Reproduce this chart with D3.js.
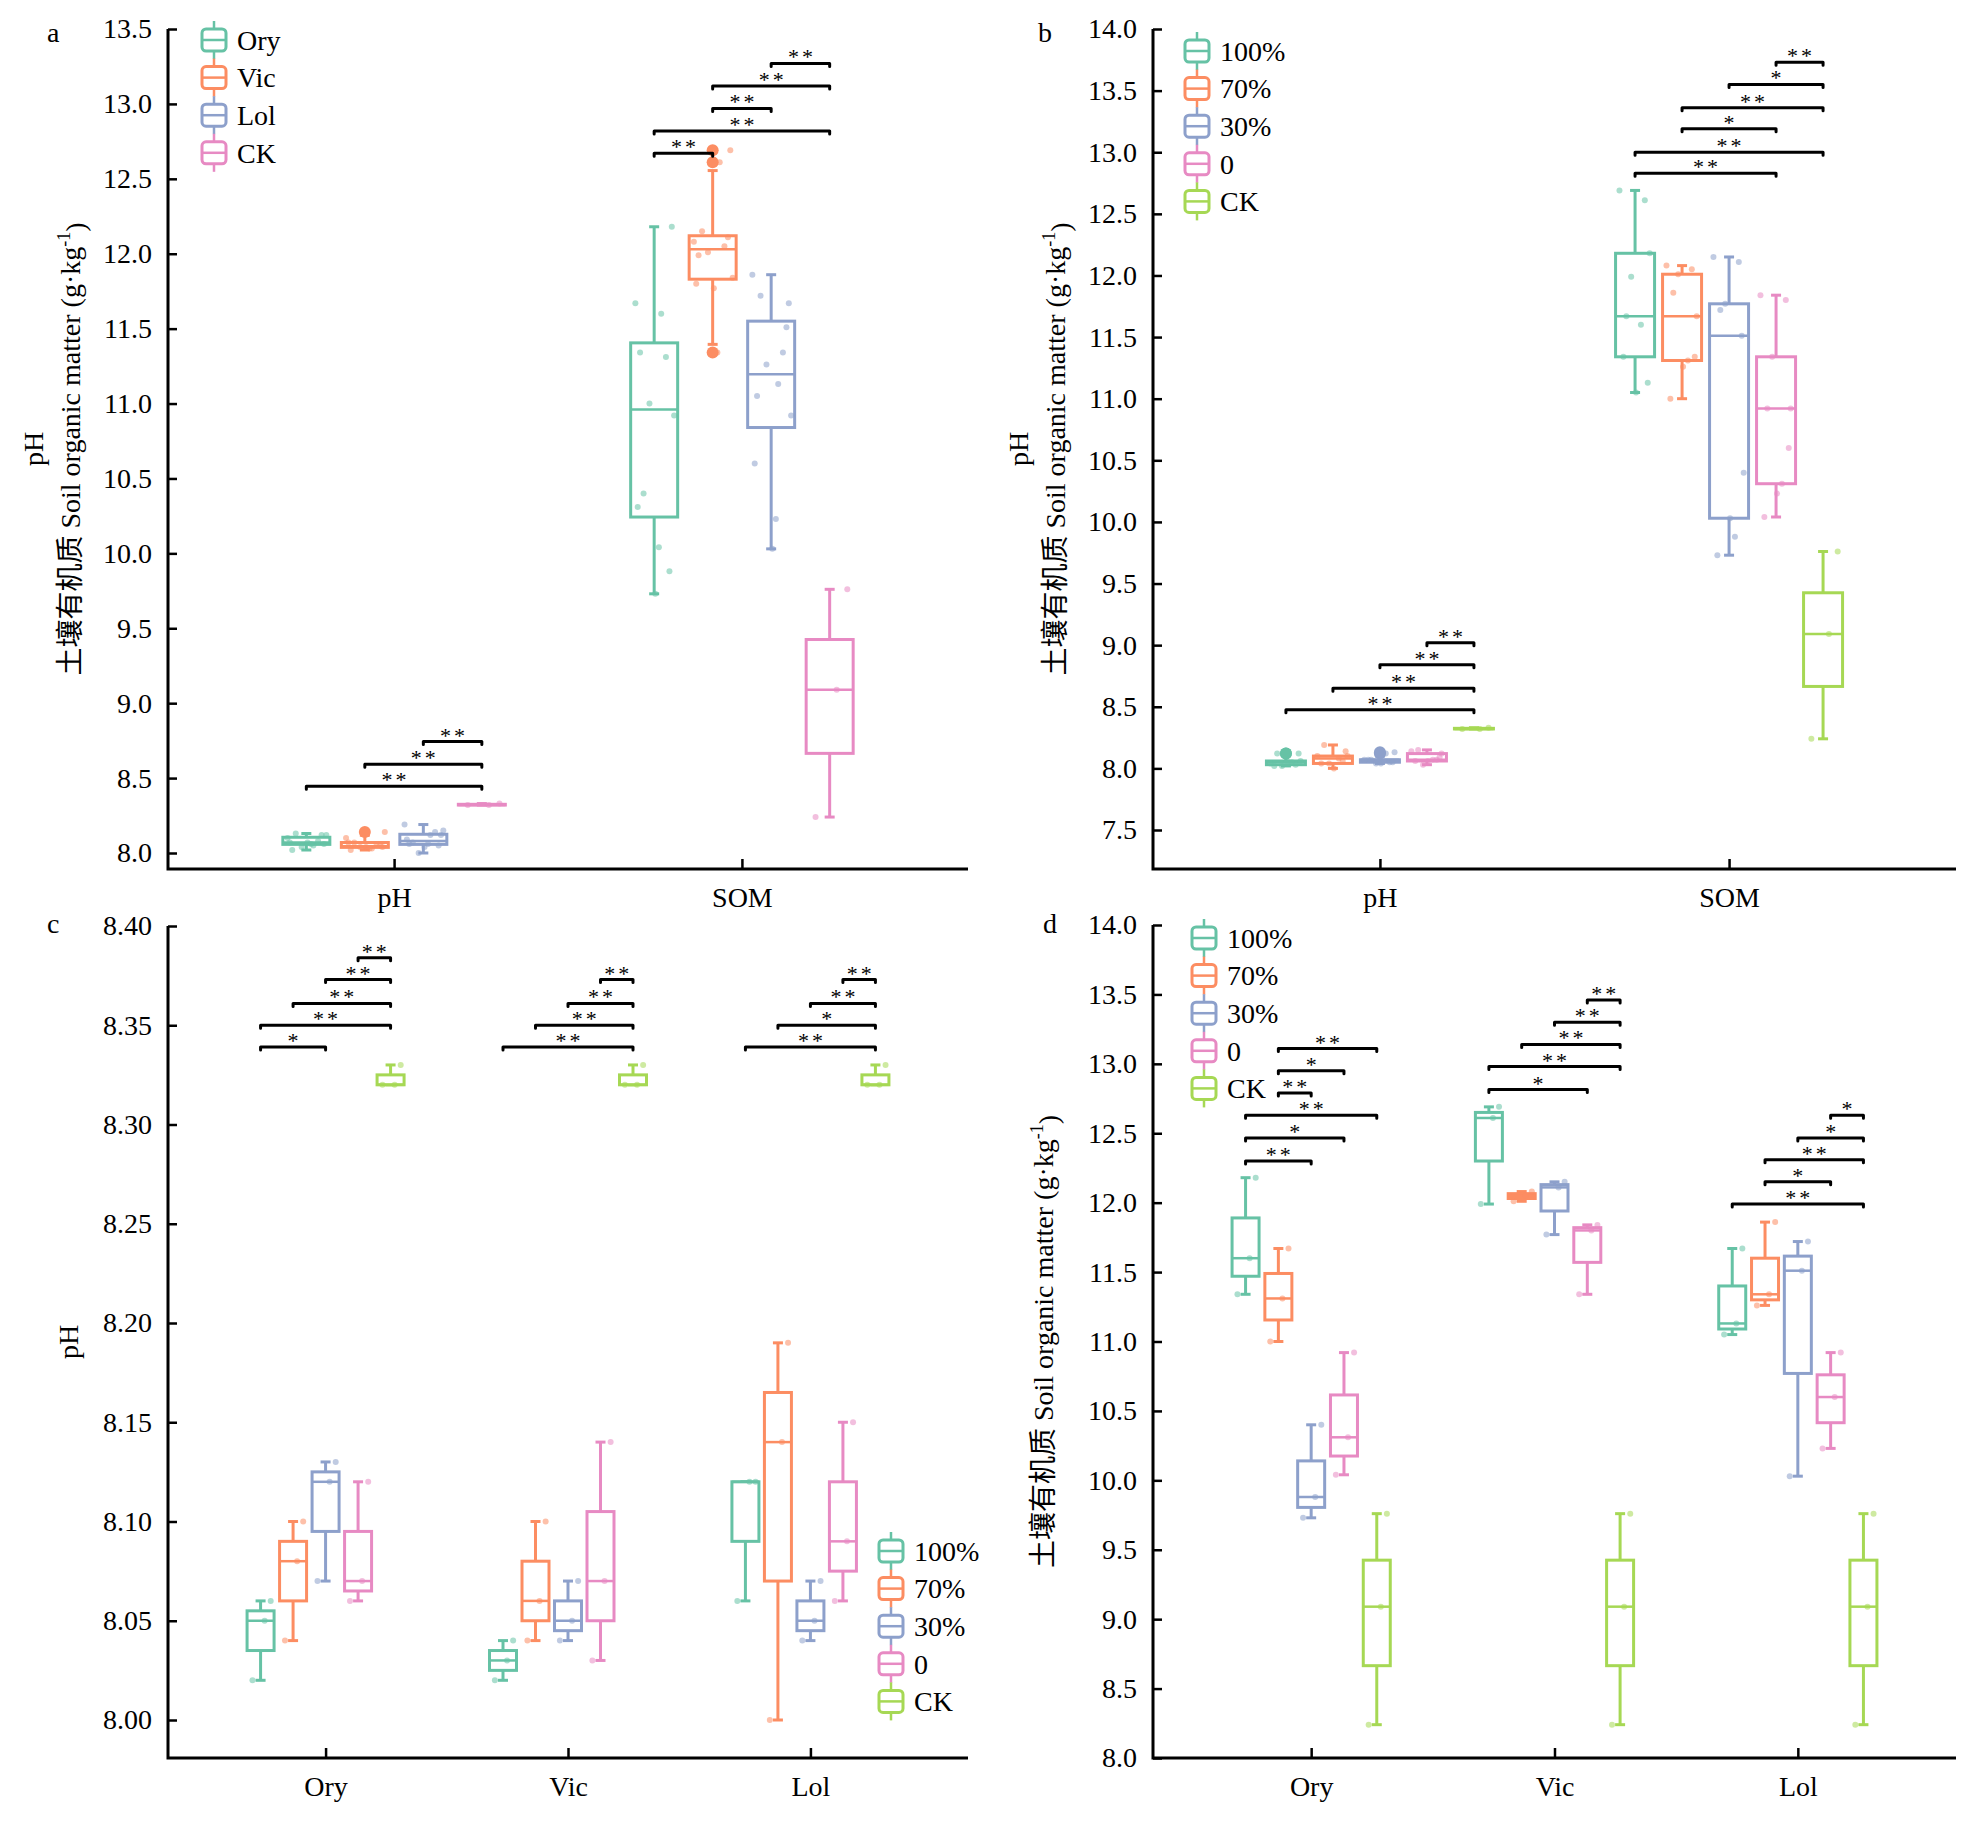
<!DOCTYPE html>
<html>
<head>
<meta charset="utf-8">
<script src="https://cdn.jsdelivr.net/npm/d3@7"></script>
<style>
body{margin:0;background:#fff}
text{font-family:"Liberation Serif","Times New Roman","Noto Sans CJK SC",serif;fill:#000}
</style>
</head>
<body>
<script>
// ---------- data ----------
var plants = ["Ory","Vic","Lol"];
var levels = ["100%","70%","30%","0"];
var measures = ["pH","SOM"];
var treatA = ["Ory","Vic","Lol","CK"];
var treatB = ["100%","70%","30%","0","CK"];

// 3 replicates for each level (100%, 70%, 30%, 0)
var phOry = [[8.02,8.05,8.06],[8.04,8.08,8.10],[8.07,8.12,8.13],[8.06,8.07,8.12]];
var phVic = [[8.02,8.03,8.04],[8.04,8.06,8.10],[8.04,8.05,8.07],[8.03,8.07,8.14]];
var phLol = [[8.06,8.12,8.12],[8.00,8.14,8.19],[8.04,8.05,8.07],[8.06,8.09,8.15]];
var phCK = [8.32,8.32,8.33];

var somOry = [[11.34,11.60,12.18],[11.00,11.31,11.67],[9.73,9.88,10.40],[10.04,10.31,10.92]];
var somVic = [[11.99,12.61,12.69],[12.01,12.05,12.08],[11.77,12.11,12.15],[11.34,11.80,11.84]];
var somLol = [[11.05,11.13,11.67],[11.26,11.34,11.86],[10.03,11.51,11.72],[10.23,10.60,10.92]];
var somCK = [8.24,9.09,9.76];

var ticksA = [8.0,8.5,9.0,9.5,10.0,10.5,11.0,11.5,12.0,12.5,13.0,13.5];
var ticksB = [7.5,8.0,8.5,9.0,9.5,10.0,10.5,11.0,11.5,12.0,12.5,13.0,13.5,14.0];
var ticksC = [8.00,8.05,8.10,8.15,8.20,8.25,8.30,8.35,8.40];
var ticksD = [8.0,8.5,9.0,9.5,10.0,10.5,11.0,11.5,12.0,12.5,13.0,13.5,14.0];

// significance: [category, from box, to box, height, label]
var sigA = [["pH",0,3,8.446,"**"],["pH",1,3,8.593,"**"],["pH",2,3,8.744,"**"],
  ["SOM",0,1,12.67,"**"],["SOM",0,3,12.82,"**"],["SOM",1,2,12.97,"**"],["SOM",1,3,13.12,"**"],["SOM",2,3,13.27,"**"]];
var sigB = [["pH",0,4,8.475,"**"],["pH",1,4,8.65,"**"],["pH",2,4,8.84,"**"],["pH",3,4,9.02,"**"],
  ["SOM",0,3,12.83,"**"],["SOM",0,4,13.0,"**"],["SOM",1,3,13.19,"*"],["SOM",1,4,13.36,"**"],["SOM",2,4,13.55,"*"],["SOM",3,4,13.73,"**"]];
var sigC = [["Ory",0,2,8.339,"*"],["Ory",0,4,8.350,"**"],["Ory",1,4,8.361,"**"],["Ory",2,4,8.373,"**"],["Ory",3,4,8.384,"**"],
  ["Vic",0,4,8.339,"**"],["Vic",1,4,8.350,"**"],["Vic",2,4,8.361,"**"],["Vic",3,4,8.373,"**"],
  ["Lol",0,4,8.339,"**"],["Lol",1,4,8.350,"*"],["Lol",2,4,8.361,"**"],["Lol",3,4,8.373,"**"]];
var sigD = [["Ory",0,2,12.30,"**"],["Ory",0,3,12.465,"*"],["Ory",0,4,12.63,"**"],["Ory",1,2,12.79,"**"],["Ory",1,3,12.95,"*"],["Ory",1,4,13.11,"**"],
  ["Vic",0,3,12.815,"*"],["Vic",0,4,12.98,"**"],["Vic",1,4,13.14,"**"],["Vic",2,4,13.30,"**"],["Vic",3,4,13.46,"**"],
  ["Lol",0,4,11.99,"**"],["Lol",1,3,12.15,"*"],["Lol",1,4,12.31,"**"],["Lol",2,4,12.465,"*"],["Lol",3,4,12.63,"*"]];

var colors = ["#66c2a5","#fc8d62","#8da0cb","#e78ac3","#a6d854"];
var colorsA = ["#66c2a5","#fc8d62","#8da0cb","#e78ac3"];

// fixed spread of the raw points inside a box
var jit = [-0.6,0.3,0.75,-0.2,0.5,-0.8,0.05,0.65,-0.45,0.2,-0.7,0.85];

// ---------- series ----------
var phAll = {Ory:phOry, Vic:phVic, Lol:phLol};
var somAll = {Ory:somOry, Vic:somVic, Lol:somLol};

var groupsA = measures.map(function(m){
  var src = m=="pH" ? phAll : somAll;
  var ck = m=="pH" ? phCK : somCK;
  return plants.map(function(p){return d3.merge(src[p])}).concat([ck]);
});
var groupsB = measures.map(function(m){
  var src = m=="pH" ? phAll : somAll;
  var ck = m=="pH" ? phCK : somCK;
  return levels.map(function(l,i){return d3.merge(plants.map(function(p){return src[p][i]}))}).concat([ck]);
});
var groupsC = plants.map(function(p){return phAll[p].concat([phCK])});
var groupsD = plants.map(function(p){return somAll[p].concat([somCK])});

var boxStats = function(vals){
  var s = vals.slice().sort(d3.ascending);
  var q1 = d3.quantile(s,0.25), med = d3.quantile(s,0.5), q3 = d3.quantile(s,0.75);
  var iqr = q3-q1, lo = q1-1.5*iqr-1e-9, hi = q3+1.5*iqr+1e-9;
  return {q1:q1, med:med, q3:q3,
    wlo:Math.max(s[0],q1-1.5*iqr), whi:Math.min(s[s.length-1],q3+1.5*iqr),
    out:s.filter(function(v){return v<lo||v>hi})};
};

var svg = d3.select("body").append("svg").attr("width",1973).attr("height",1822);
svg.append("rect").attr("width",1973).attr("height",1822).attr("fill","#fff");

var drawPanel = function(p){
  var g = svg.append("g");
  var x = d3.scalePoint().domain(p.cats).range([p.x0,p.x1]).padding(0.65);
  var y = d3.scaleLinear().domain(p.yDom).range(p.yRng);
  var n = p.groups[0].length;
  var cx = function(ci,j){return x(p.cats[ci]) + (j-(n-1)/2)*p.sp};

  // axes
  var ya = g.append("g").attr("transform","translate("+p.x0+",0)")
    .call(d3.axisLeft(y).tickValues(p.ticks).tickFormat(d3.format(p.fmt)).tickSize(-9).tickPadding(16));
  var xa = g.append("g").attr("transform","translate(0,"+p.axisY+")")
    .call(d3.axisBottom(x).tickSize(-10).tickPadding(18));
  [ya,xa].forEach(function(a){
    a.select(".domain").remove();
    a.selectAll(".tick line").attr("stroke","#000").attr("stroke-width",2.5);
    a.selectAll("text").attr("font-size",28).attr("font-family","Liberation Serif");
  });
  g.append("path").attr("d","M"+p.x0+","+y(p.ticks[p.ticks.length-1])+"V"+p.axisY+"H"+p.x1)
    .attr("fill","none").attr("stroke","#000").attr("stroke-width",3);

  // boxes
  p.groups.forEach(function(grp,ci){
    grp.forEach(function(vals,j){
      var s = boxStats(vals), c = cx(ci,j), col = p.cols[j], hw = p.bw/2;
      var b = g.append("g").attr("stroke",col).attr("stroke-width",3).attr("fill","none");
      b.append("line").attr("x1",c).attr("x2",c).attr("y1",y(s.q3)).attr("y2",y(s.whi));
      b.append("line").attr("x1",c).attr("x2",c).attr("y1",y(s.q1)).attr("y2",y(s.wlo));
      b.append("line").attr("x1",c-5).attr("x2",c+5).attr("y1",y(s.whi)).attr("y2",y(s.whi));
      b.append("line").attr("x1",c-5).attr("x2",c+5).attr("y1",y(s.wlo)).attr("y2",y(s.wlo));
      b.append("rect").attr("x",c-hw).attr("y",y(s.q3)).attr("width",p.bw)
        .attr("height",Math.max(0.5,y(s.q1)-y(s.q3))).attr("fill","#fff");
      b.append("line").attr("x1",c-hw).attr("x2",c+hw).attr("y1",y(s.med)).attr("y2",y(s.med)).attr("stroke-width",2.5);
      g.selectAll(null).data(vals).enter().append("circle")
        .attr("cx",function(v,k){return c+jit[k%jit.length]*hw})
        .attr("cy",function(v){return y(v)})
        .attr("r",3).attr("fill",col).attr("fill-opacity",0.55);
      g.selectAll(null).data(s.out).enter().append("circle")
        .attr("cx",c).attr("cy",function(v){return y(v)})
        .attr("r",6).attr("fill",col);
    });
  });

  // significance brackets
  p.sig.forEach(function(d){
    var ci = p.cats.indexOf(d[0]);
    var xa1 = cx(ci,d[1]), xb1 = cx(ci,d[2]), yy = y(d[3]);
    g.append("path").attr("d","M"+xa1+","+(yy+3)+"V"+yy+"H"+xb1+"V"+(yy+3))
      .attr("fill","none").attr("stroke","#000").attr("stroke-width",3)
      .attr("stroke-linecap","round").attr("stroke-linejoin","round");
    g.append("text").attr("x",(xa1+xb1)/2).attr("dx",1.5).attr("y",yy+1).attr("text-anchor","middle")
      .attr("font-size",22).attr("letter-spacing",3).text(d[4]);
  });

  // legend
  p.legNames.forEach(function(name,i){
    var ly = p.legY + i*37.6, lx = p.legX, col = p.cols[i];
    var l = g.append("g").attr("stroke",col).attr("fill","none");
    l.append("line").attr("x1",lx).attr("x2",lx).attr("y1",ly-19).attr("y2",ly+19).attr("stroke-width",2.5);
    l.append("rect").attr("x",lx-12).attr("y",ly-11).attr("width",24).attr("height",22).attr("rx",4)
      .attr("fill","#fff").attr("stroke-width",3);
    l.append("line").attr("x1",lx-12).attr("x2",lx+12).attr("y1",ly).attr("y2",ly).attr("stroke-width",2.5);
    g.append("text").attr("x",lx+23).attr("y",ly).attr("dy","0.35em").attr("font-size",28).text(name);
  });

  // titles
  var yc = (y(p.ticks[p.ticks.length-1])+p.axisY)/2;
  p.titles.forEach(function(t){
    var tx = g.append("text").attr("transform","translate("+t[0]+","+yc+") rotate(-90)")
      .attr("text-anchor","middle").attr("dy","0.35em").attr("font-size",28);
    if(t[1]=="pH"){ tx.text("pH"); }
    else {
      tx.append("tspan").text("土壤有机质 Soil organic matter (g·kg");
      tx.append("tspan").attr("dy","-0.55em").attr("font-size",18).text("-1");
      tx.append("tspan").attr("dy","0.55em").text(")");
    }
  });
  g.append("text").attr("x",p.lab[1]).attr("y",p.lab[2]).attr("font-size",28).text(p.lab[0]);
};

drawPanel({cats:measures, groups:groupsA, cols:colorsA, x0:168, x1:968, axisY:869,
  yDom:[8.0,13.5], yRng:[853,29], ticks:ticksA, fmt:".1f", sp:58.5, bw:47, sig:sigA,
  legNames:treatA, legX:214, legY:40, titles:[[33,"pH"],[70,"som"]], lab:["a",47,42]});
drawPanel({cats:measures, groups:groupsB, cols:colors, x0:1153, x1:1956, axisY:869,
  yDom:[7.5,14.0], yRng:[830,29], ticks:ticksB, fmt:".1f", sp:47, bw:39, sig:sigB,
  legNames:treatB, legX:1197, legY:51, titles:[[1018,"pH"],[1055,"som"]], lab:["b",1038,42]});
drawPanel({cats:plants, groups:groupsC, cols:colors, x0:168, x1:968, axisY:1758,
  yDom:[8.00,8.40], yRng:[1720,926], ticks:ticksC, fmt:".2f", sp:32.5, bw:27, sig:sigC,
  legNames:treatB, legX:891, legY:1551, titles:[[68,"pH"]], lab:["c",47,933]});
drawPanel({cats:plants, groups:groupsD, cols:colors, x0:1153, x1:1956, axisY:1758,
  yDom:[8.0,14.0], yRng:[1758,925], ticks:ticksD, fmt:".1f", sp:32.8, bw:27, sig:sigD,
  legNames:treatB, legX:1204, legY:938, titles:[[1043,"som"]], lab:["d",1043,933]});
</script>
</body>
</html>
